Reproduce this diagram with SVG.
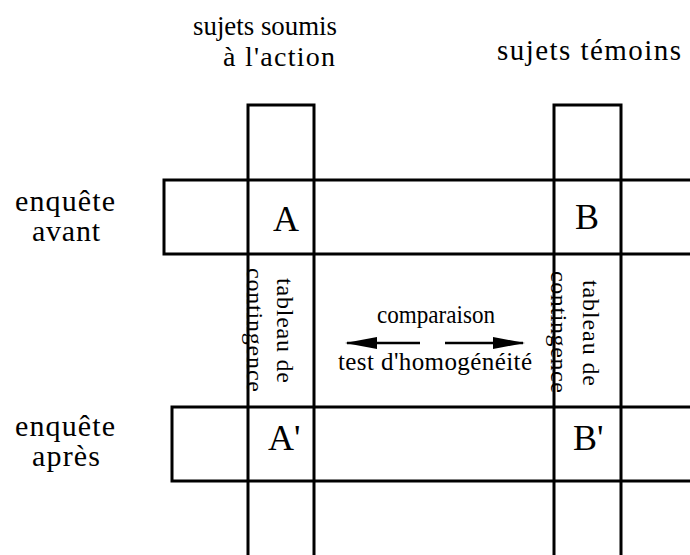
<svg xmlns="http://www.w3.org/2000/svg" width="690" height="555" viewBox="0 0 690 555">
<style>
.ln{fill:none;stroke:#000;stroke-width:3;stroke-linecap:square}
</style>
<defs>
<marker id="ah" viewBox="0 0 32 12" refX="30" refY="6" markerWidth="32" markerHeight="12" markerUnits="userSpaceOnUse" orient="auto">
<path d="M0,0 L32,6 L0,12 z" fill="#000"/>
</marker>
</defs>
<rect width="690" height="555" fill="#fff"/>
<g id="row-avant">
<path class="ln" d="M690,180 H164 V254 H690"/>
</g>
<g id="row-apres">
<path class="ln" d="M690,407 H172 V481 H690"/>
</g>
<g id="col-action">
<path class="ln" d="M248,555 V105 H314 V555"/>
</g>
<g id="col-temoins">
<path class="ln" d="M554,555 V105 H621 V555"/>
</g>
<g font-family="'Liberation Serif', 'Times New Roman', serif" fill="#000">
<g id="header-action" font-size="28">
<text x="193" y="35" textLength="144" lengthAdjust="spacingAndGlyphs">sujets soumis</text>
<text x="223" y="66" textLength="112" lengthAdjust="spacing">à l'action</text>
</g>
<g id="header-temoins" font-size="29">
<text x="497" y="60" textLength="184" lengthAdjust="spacing">sujets témoins</text>
</g>
<g id="label-avant" font-size="30">
<text x="15" y="211" textLength="100" lengthAdjust="spacing">enquête</text>
<text x="32" y="241" textLength="68" lengthAdjust="spacing">avant</text>
</g>
<g id="label-apres" font-size="30">
<text x="15" y="436" textLength="100" lengthAdjust="spacing">enquête</text>
<text x="32" y="466" textLength="68" lengthAdjust="spacing">après</text>
</g>
<g id="cell-A" font-size="36"><text x="273" y="231">A</text></g>
<g id="cell-B" font-size="36"><text x="575" y="229">B</text></g>
<g id="cell-A2" font-size="36"><text x="268" y="450">A'</text></g>
<g id="cell-B2" font-size="36"><text x="573" y="450">B'</text></g>
<g id="contingence-A" font-size="24">
<text transform="translate(277,278) rotate(90)" textLength="105" lengthAdjust="spacing">tableau de</text>
<text transform="translate(247,268) rotate(90)" textLength="124" lengthAdjust="spacing">contingence</text>
</g>
<g id="contingence-B" font-size="24">
<text transform="translate(583,280) rotate(90)" textLength="106" lengthAdjust="spacing">tableau de</text>
<text transform="translate(551,271) rotate(90)" textLength="122" lengthAdjust="spacing">contingence</text>
</g>
<g id="comparaison" font-size="25">
<text x="377" y="323" textLength="118" lengthAdjust="spacingAndGlyphs">comparaison</text>
<text x="338" y="370" textLength="194" lengthAdjust="spacing">test d'homogénéité</text>
</g>
</g>
<g id="connectors">
<line x1="420" y1="343" x2="347" y2="343" stroke="#000" stroke-width="2.5" marker-end="url(#ah)"/>
<line x1="445" y1="343" x2="523" y2="343" stroke="#000" stroke-width="2.5" marker-end="url(#ah)"/>
</g>
</svg>
